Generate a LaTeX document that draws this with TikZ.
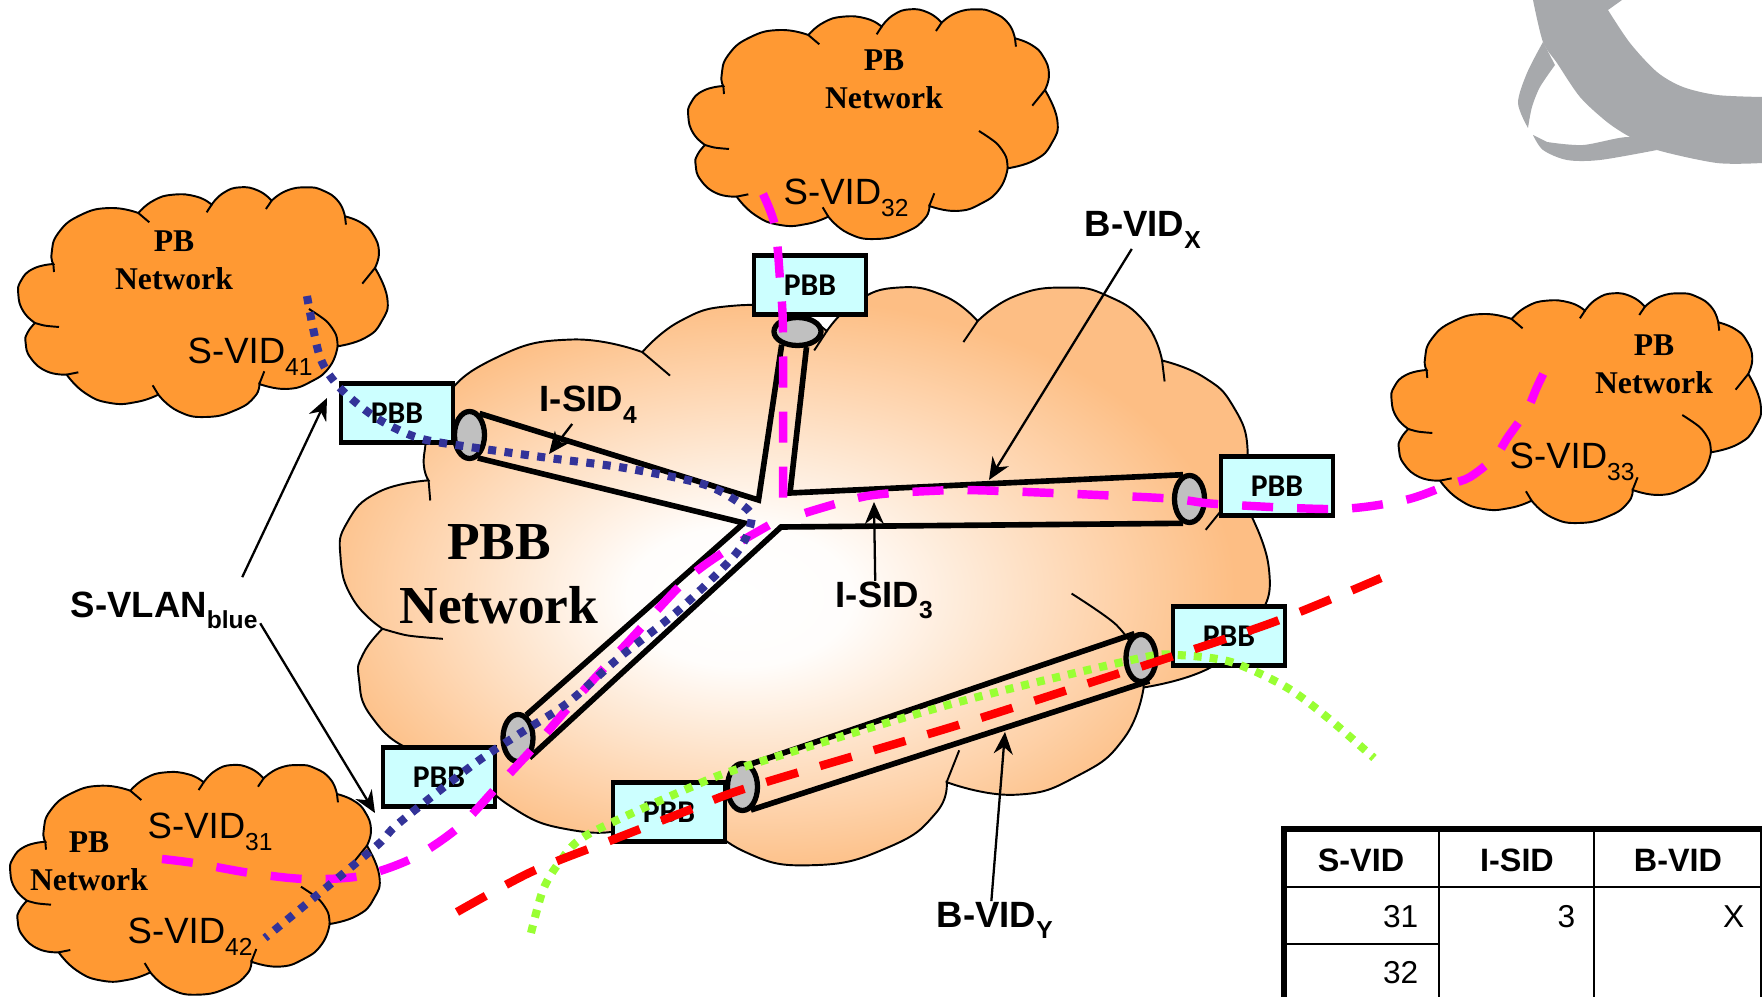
\documentclass[tikz,border=0pt]{standalone}
\usepackage{fontspec}
\usepackage{xcolor}
\usetikzlibrary{positioning, arrows.meta, shapes.geometric}
\setmainfont{Liberation Sans}
\newfontfamily\pbfont{Liberation Serif}
\newfontfamily\boxfont{Carlito}
\definecolor{pborange}{RGB}{255,153,51}
\definecolor{pbbpeach}{RGB}{253,190,132}
\definecolor{pbbcyan}{RGB}{204,255,255}
\definecolor{endgray}{RGB}{192,192,192}
\definecolor{logogray}{RGB}{167,169,172}
\definecolor{vlanblue}{RGB}{51,51,153}
\definecolor{vlanpink}{RGB}{255,0,255}
\definecolor{bvidgreen}{RGB}{153,255,51}
\pgfdeclareradialshading{pbbglow}{\pgfpoint{-4bp}{-2bp}}{color(0bp)=(white); color(6bp)=(white!97!pbbpeach); color(25bp)=(pbbpeach); color(50bp)=(pbbpeach)}
\newcommand{\vidsub}[1]{\raisebox{-3.2pt}{\fontsize{7}{7}\selectfont #1}}
\newcommand{\cloudshape}{plot[smooth,tension=0.85] coordinates {(130,258) (70,272) (33,308) (25,350) (40,400) (75,435)}
  -- plot[smooth,tension=0.85] coordinates {(75,435) (52,465) (47,495) (62,540) (110,580) (170,590)}
  -- plot[smooth,tension=0.85] coordinates {(170,590) (225,645) (300,675) (380,672) (445,650)}
  -- plot[smooth,tension=0.85] coordinates {(445,650) (505,700) (590,717) (680,695) (735,655) (748,618)}
  -- plot[smooth,tension=0.85] coordinates {(748,618) (830,633) (905,610) (960,565) (983,505)}
  -- plot[smooth,tension=0.85] coordinates {(983,505) (1065,480) (1115,430) (1132,360) (1095,270)}
  -- plot[smooth,tension=0.85] coordinates {(1095,270) (1107,222) (1090,170) (1055,135) (1005,115)}
  -- plot[smooth,tension=0.85] coordinates {(1005,115) (985,70) (940,38) (890,28) (830,38) (785,68)}
  -- plot[smooth,tension=0.85] coordinates {(785,68) (745,38) (690,28) (640,45) (605,80)}
  -- plot[smooth,tension=0.85] coordinates {(605,80) (560,56) (490,50) (430,68) (385,105)}
  -- plot[smooth,tension=0.85] coordinates {(385,105) (300,90) (210,112) (145,165) (125,225) (130,258)} -- cycle}
\newcommand{\cloudseams}{%
  \draw[seam] (130,258) -- (132,282);
  \draw[seam] plot[smooth] coordinates {(75,435) (105,443) (147,447)};
  \draw[seam] (170,590) -- (205,583);
  \draw[seam] (445,650) -- (428,622);
  \draw[seam] (748,618) -- (763,580);
  \draw[seam] plot[smooth] coordinates {(983,505) (978,470) (950,430) (897,393)};
  \draw[seam] (1095,270) -- (1057,317);
  \draw[seam] (1005,115) -- (1008,140);
  \draw[seam] (785,68) -- (768,93);
  \draw[seam] (605,80) -- (590,103);
  \draw[seam] (385,105) -- (418,133);
}
\tikzset{
  seam/.style={line width=0.55pt},
  pbcloud/.style={draw=black, line width=0.55pt, fill=pborange},
  pbbbox/.style={draw=black, line width=1.2pt, fill=pbbcyan, minimum width=1.12cm, minimum height=0.59cm, inner sep=0pt, font=\boxfont\bfseries\fontsize{9}{9}\selectfont},
  tubeend/.style={ellipse, draw=black, line width=1.5pt, fill=endgray, minimum width=0.3cm, minimum height=0.47cm, inner sep=0pt},
  tube/.style={line width=1.6pt},
  pointer/.style={line width=0.65pt, -{Stealth[length=0.22cm,width=0.19cm]}},
  vidtext/.style={anchor=base west, inner sep=0pt, font=\fontsize{10.4}{11}\selectfont},
  boldtext/.style={anchor=base west, inner sep=0pt, font=\bfseries\fontsize{10.4}{11}\selectfont},
  pbtext/.style={align=center, inner sep=0pt, font=\pbfont\bfseries\fontsize{9}{10.9}\selectfont},
  headcell/.style={inner sep=0pt, font=\bfseries\fontsize{9.2}{9}\selectfont},
  numcell/.style={anchor=base east, inner sep=0pt, font=\fontsize{9}{9}\selectfont},
  pinkline/.style={vlanpink, line width=2.4pt, dash pattern=on 0.31cm off 0.24cm},
  blueline/.style={vlanblue, line width=2.3pt, dash pattern=on 0.08cm off 0.085cm},
  redline/.style={red, line width=2.4pt, dash pattern=on 0.33cm off 0.23cm},
  greenline/.style={bvidgreen, line width=2.3pt, dash pattern=on 0.08cm off 0.08cm},
}
\begin{document}
\begin{tikzpicture}[x=0.01cm, y=-0.01cm]
    \clip[use as bounding box] (0,0) rectangle (1762,997);

    % Logo
    \fill[logogray] plot[smooth] coordinates {(1533,0) (1543,42) (1557,63) (1580,97) (1607,122) (1630,137) (1657,150) (1717,163) (1762,163)}
        -- (1762,97) -- plot[smooth] coordinates {(1762,97) (1717,95) (1683,87) (1657,72) (1630,43) (1608,10)} -- (1622,0) -- cycle;
    \fill[logogray] plot[smooth] coordinates {(1543,42) (1527,73) (1518,103) (1528,128)}
        -- plot[smooth] coordinates {(1528,128) (1532,107) (1540,87) (1555,65)} -- cycle;
    \fill[logogray] plot[smooth] coordinates {(1533,135) (1543,150) (1567,160) (1600,160) (1657,150)}
        -- plot[smooth] coordinates {(1657,150) (1630,137) (1583,145) (1547,142)} -- cycle;

    % Core cloud
    \begin{scope}[shift={(319.6,264.1)}, scale=0.8383]
        \shade[shading=pbbglow] \cloudshape;
        \draw[seam] \cloudshape;
        \cloudseams
    \end{scope}

    % Edge clouds
    \foreach \cx/\cy in {680/0, 10/178, 1383.3/284, 2/755.7} {
        \begin{scope}[shift={(\cx,\cy)}, scale=0.3333]
            \draw[pbcloud] \cloudshape;
            \cloudseams
        \end{scope}
    }

    % Cloud labels
    \node[pbtext] (pbTop) at (884,79) {PB\\Network};
    \node[pbtext] (pbLeft) at (174,260) {PB\\Network};
    \node[pbtext] (pbRight) at (1654,364) {PB\\Network};
    \node[pbtext] (pbBottom) at (89,861) {PB\\Network};
    \node[align=center, inner sep=0pt, font=\pbfont\bfseries\fontsize{15.2}{18.2}\selectfont] (pbbCore) at (499,574) {PBB\\Network};

    \node[vidtext] (svid32) at (783,205) {S-VID\vidsub{32}};
    \node[vidtext] (svid41) at (187,364) {S-VID\vidsub{41}};
    \node[vidtext] (svid33) at (1509,469) {S-VID\vidsub{33}};
    \node[vidtext] (svid31) at (147,839) {S-VID\vidsub{31}};
    \node[vidtext] (svid42) at (127,944) {S-VID\vidsub{42}};

    % PBB boxes
    \node[pbbbox] (pbbTop) at (810,285) {PBB};
    \node[pbbbox] (pbbLeft) at (397,413) {PBB};
    \node[pbbbox] (pbbEast) at (1277,486) {PBB};
    \node[pbbbox] (pbbSouthEast) at (1229,636) {PBB};
    \node[pbbbox] (pbbSouthWest) at (439,777) {PBB};
    \node[pbbbox] (pbbSouth) at (669,812) {PBB};

    % Tube ends
    \node[tubeend, minimum width=0.47cm, minimum height=0.28cm] (endTop) at (797.5,331.5) {};
    \node[tubeend] (endFour) at (469.5,435) {};
    \node[tubeend] (endEast) at (1189.5,499) {};
    \node[tubeend] (endSouthWest) at (518,738) {};
    \node[tubeend] (endYleft) at (742.5,787) {};
    \node[tubeend] (endYright) at (1141,658) {};

    % Tubes
    \coordinate (hubNW) at (758.5,500);
    \coordinate (hubNE) at (790,493);
    \coordinate (hubE) at (781,527);
    \coordinate (hubW) at (744,523);
    \draw[tube] (endFour.65) -- (hubNW) -- (endTop.-140);
    \draw[tube] (endTop.-60) -- (hubNE) -- (endEast.105);
    \draw[tube] (endEast.-105) -- (hubE) -- (endSouthWest.-60);
    \draw[tube] (endSouthWest.70) -- (hubW) -- (endFour.-70);
    \draw[tube] (endYleft.70) -- (endYright.105);
    \draw[tube] (endYleft.-70) -- (endYright.-70);

    % Labels with arrows
    \node[boldtext] (isid4) at (539,412) {I-SID\vidsub{4}};
    \node[boldtext] (isid3) at (835,607) {I-SID\vidsub{3}};
    \node[boldtext] (bvidx) at (1084,237) {B-VID\vidsub{X}};
    \node[boldtext] (bvidy) at (936,927) {B-VID\vidsub{Y}};
    \node[boldtext] (svlan) at (70,617) {S-VLAN\vidsub{blue}};
    \coordinate (tipFour) at (549,454);
    \coordinate (tipThree) at (874,502);
    \coordinate (tipX) at (989,480);
    \coordinate (tipY) at (1005,732);
    \coordinate (tipLeft) at (327,398);
    \coordinate (tipBottom) at (375,813);
    \draw[pointer] (isid4.-130) -- (tipFour);
    \draw[pointer] (isid3.115) -- (tipThree);
    \draw[pointer] (bvidx.-120) -- (tipX);
    \draw[pointer] (bvidy.100) -- (tipY);
    \draw[pointer, shorten <=0.15cm] (svlan.15) -- (tipLeft);
    \draw[pointer, shorten <=0.04cm] (svlan.-6) -- (tipBottom);

    % Service paths
    \draw[pinkline] plot[smooth, tension=0.5] coordinates {(763,194) (775,226) (780,280) (783,333) (783,507)};
    \draw[pinkline] plot[smooth, tension=0.5] coordinates {(162,859) (194,863) (250,873) (305,879) (361,876) (413,858) (459,827) (497,787) (536,745) (574,701) (630,640) (686,580) (730,548) (780,519)};
    \draw[pinkline] plot[smooth, tension=0.5] coordinates {(805,513) (867,496) (930,491) (986,490.5) (1161,498) (1217,504) (1337,509) (1405,500) (1448,485) (1470,477) (1495,457) (1508,437) (1527,410) (1537,387) (1550,360)};
    \draw[blueline] plot[smooth, tension=0.5] coordinates {(307,296) (320,357) (340,388) (376.5,418) (418.6,438) (470,447) (549,458) (625,468) (705.7,485) (746,508) (751,523) (736,553.6) (680,609) (617.5,659) (567.5,703) (517.5,735) (474,764) (399,823) (377.5,845) (316,896) (265,938)};
    \draw[greenline] plot[smooth, tension=0.5] coordinates {(531,933) (543,890) (559,863) (587,835) (689,788) (750,765) (955,703) (1136,659) (1176,655) (1231,662) (1286,687) (1328,718) (1374,758)};
    \draw[redline] plot[smooth, tension=0.5] coordinates {(457,912) (531,872) (612,840) (689,810) (750,787) (955,726) (1117,674) (1143,666) (1274,622) (1381,578)};

    % Table
    \draw[line width=1.7pt] (1284,1040) -- (1284,829) -- (1763,829) -- (1763,1040);
    \draw[line width=0.6pt] (1284,887) -- (1763,887);
    \draw[line width=0.6pt] (1284,944) -- (1439,944);
    \draw[line width=0.6pt] (1439,829) -- (1439,1040);
    \draw[line width=0.6pt] (1594,829) -- (1594,1040);
    \node[headcell] (headS) at (1361,860) {S-VID};
    \node[headcell] (headI) at (1517,860) {I-SID};
    \node[headcell] (headB) at (1678,860) {B-VID};
    \node[numcell] (cell31) at (1419,927) {31};
    \node[numcell] (cell32) at (1419,984) {32};
    \node[numcell] (cell3) at (1576,927) {3};
    \node[numcell] (cellX) at (1745,927) {X};
\end{tikzpicture}
\end{document}
